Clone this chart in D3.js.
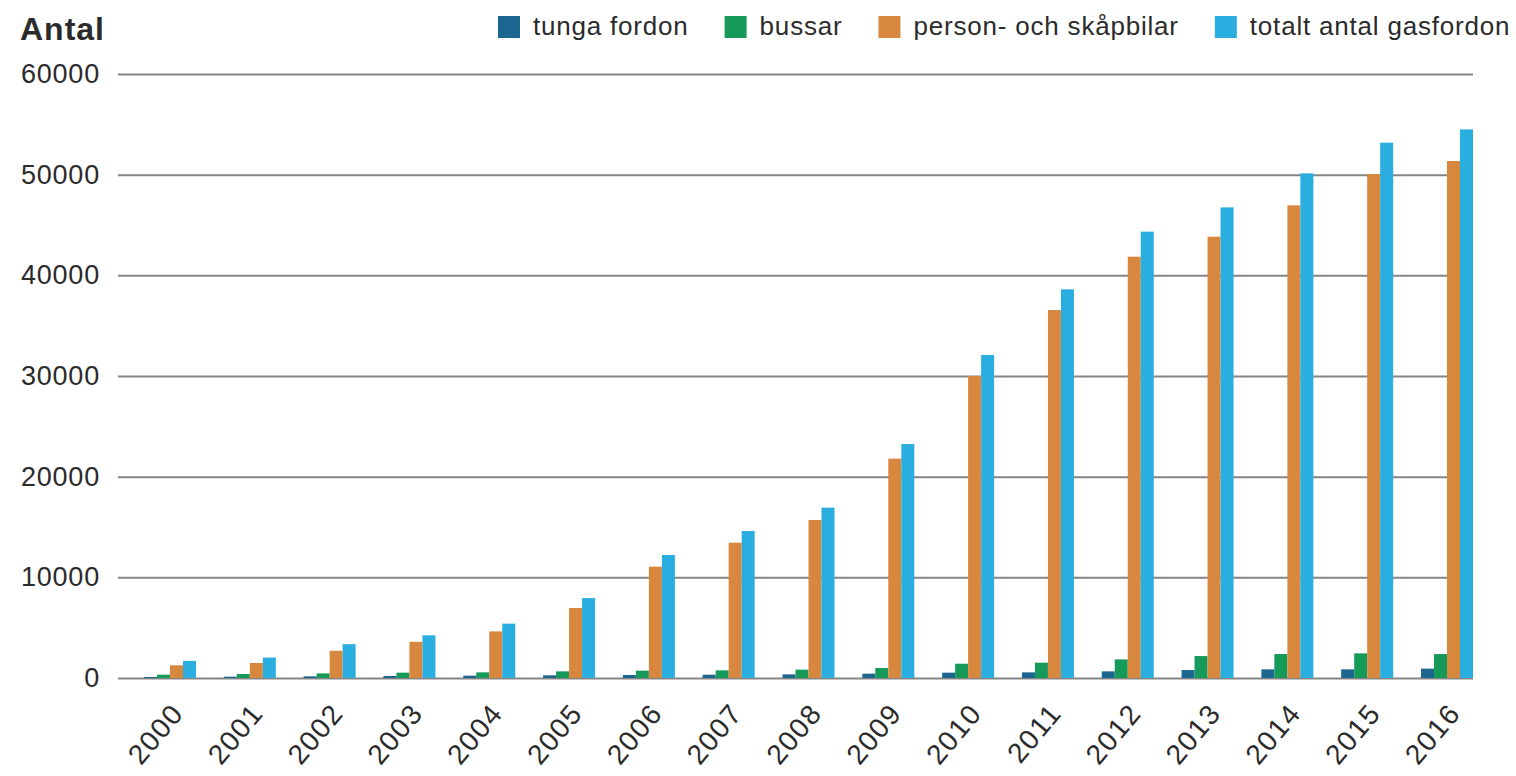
<!DOCTYPE html>
<html>
<head>
<meta charset="utf-8">
<script src="https://cdn.jsdelivr.net/npm/d3@7"></script>
<style>
  body { margin: 0; background: #fff; }
  text { font-family: "Liberation Sans", Arial, sans-serif; fill: #2b2b2b; }
</style>
</head>
<body>
<div id="chart"></div>
<script>
// chart data
let years = ["2000", "2001", "2002", "2003", "2004", "2005", "2006", "2007", "2008",
  "2009", "2010", "2011", "2012", "2013", "2014", "2015", "2016"];
let tunga = [100, 130, 165, 200, 230, 265, 300, 330, 360, 430, 530, 560, 660, 790, 860, 860, 930];
let bussar = [330, 400, 460, 530, 560, 660, 730, 760, 830, 990, 1420, 1520, 1850, 2180, 2380, 2450, 2380];
let personbilar = [1260, 1490, 2700, 3590, 4630, 6950, 11060, 13440, 15700, 21790, 30000, 36550, 41850, 43840, 46950, 50060, 51360];
let totalt = [1700, 2030, 3360, 4240, 5400, 7940, 12220, 14600, 16920, 23240, 32090, 38610, 44340, 46750, 50130, 53180, 54500];
let seriesNames = ["tunga fordon", "bussar", "person- och skåpbilar", "totalt antal gasfordon"];
let seriesColors = ["#1c6690", "#169a5a", "#d8873f", "#2aaee0"];
let yTicks = [0, 10000, 20000, 30000, 40000, 50000, 60000];

let seriesValues = [tunga, bussar, personbilar, totalt];

let svgWidth = 1516;
let svgHeight = 776;

let svg = d3.select("#chart")
  .append("svg")
  .attr("width", svgWidth)
  .attr("height", svgHeight);

// scales
let gridLeft = 118, gridRight = 1473;
let yScale = d3.scaleLinear().domain([0, 60000]).range([678, 74]);
let xScale = d3.scalePoint().domain(years).range([170, 1447]);
let barScale = d3.scaleBand().domain(seriesNames).range([-26, 26]).padding(0);

// gridlines + y labels
let yAxis = svg.append("g")
  .attr("transform", `translate(${gridLeft},0)`)
  .call(d3.axisLeft(yScale)
    .tickValues(yTicks)
    .tickFormat(d3.format("d"))
    .tickSizeInner(-(gridRight - gridLeft))
    .tickSizeOuter(0)
    .tickPadding(18));
yAxis.select(".domain").remove();
yAxis.selectAll("line").attr("stroke", "#858585").attr("stroke-width", 2);
yAxis.selectAll("text")
  .attr("font-family", "Liberation Sans, Arial, sans-serif")
  .style("font-size", "27px")
  .style("letter-spacing", "0.8px")
  .attr("fill", "#2b2b2b");

// bars
let groups = svg.selectAll(".year")
  .data(years)
  .enter()
  .append("g")
  .attr("class", "year")
  .attr("transform", d => `translate(${xScale(d)},0)`);

groups.selectAll("rect")
  .data((d, i) => seriesNames.map((name, s) => ({ name: name, value: seriesValues[s][i], color: seriesColors[s] })))
  .enter()
  .append("rect")
  .attr("x", d => barScale(d.name))
  .attr("width", barScale.bandwidth())
  .attr("y", d => yScale(d.value))
  .attr("height", d => yScale(0) - yScale(d.value))
  .attr("fill", d => d.color);

// x labels
svg.append("g")
  .selectAll("text")
  .data(years)
  .enter()
  .append("text")
  .attr("transform", d => `translate(${xScale(d) + 15},714) rotate(-50)`)
  .style("text-anchor", "end")
  .style("font-size", "28px")
  .style("letter-spacing", "1.5px")
  .text(d => d);

// y title
svg.append("text")
  .attr("x", 20)
  .attr("y", 40)
  .style("font-size", "32px")
  .style("font-weight", "bold")
  .style("letter-spacing", "1px")
  .attr("fill", "#111")
  .text("Antal");

// legend
let legend = svg.append("g");
let lx = 498;
seriesNames.forEach(function(name, i) {
  legend.append("rect")
    .attr("x", lx)
    .attr("y", 16)
    .attr("width", 22)
    .attr("height", 22)
    .attr("fill", seriesColors[i]);
  let t = legend.append("text")
    .attr("x", lx + 35)
    .attr("y", 35)
    .style("font-size", "26px")
    .style("letter-spacing", "0.8px")
    .text(name);
  lx = lx + 35 + t.node().getComputedTextLength() + 36;
});
</script>
</body>
</html>
